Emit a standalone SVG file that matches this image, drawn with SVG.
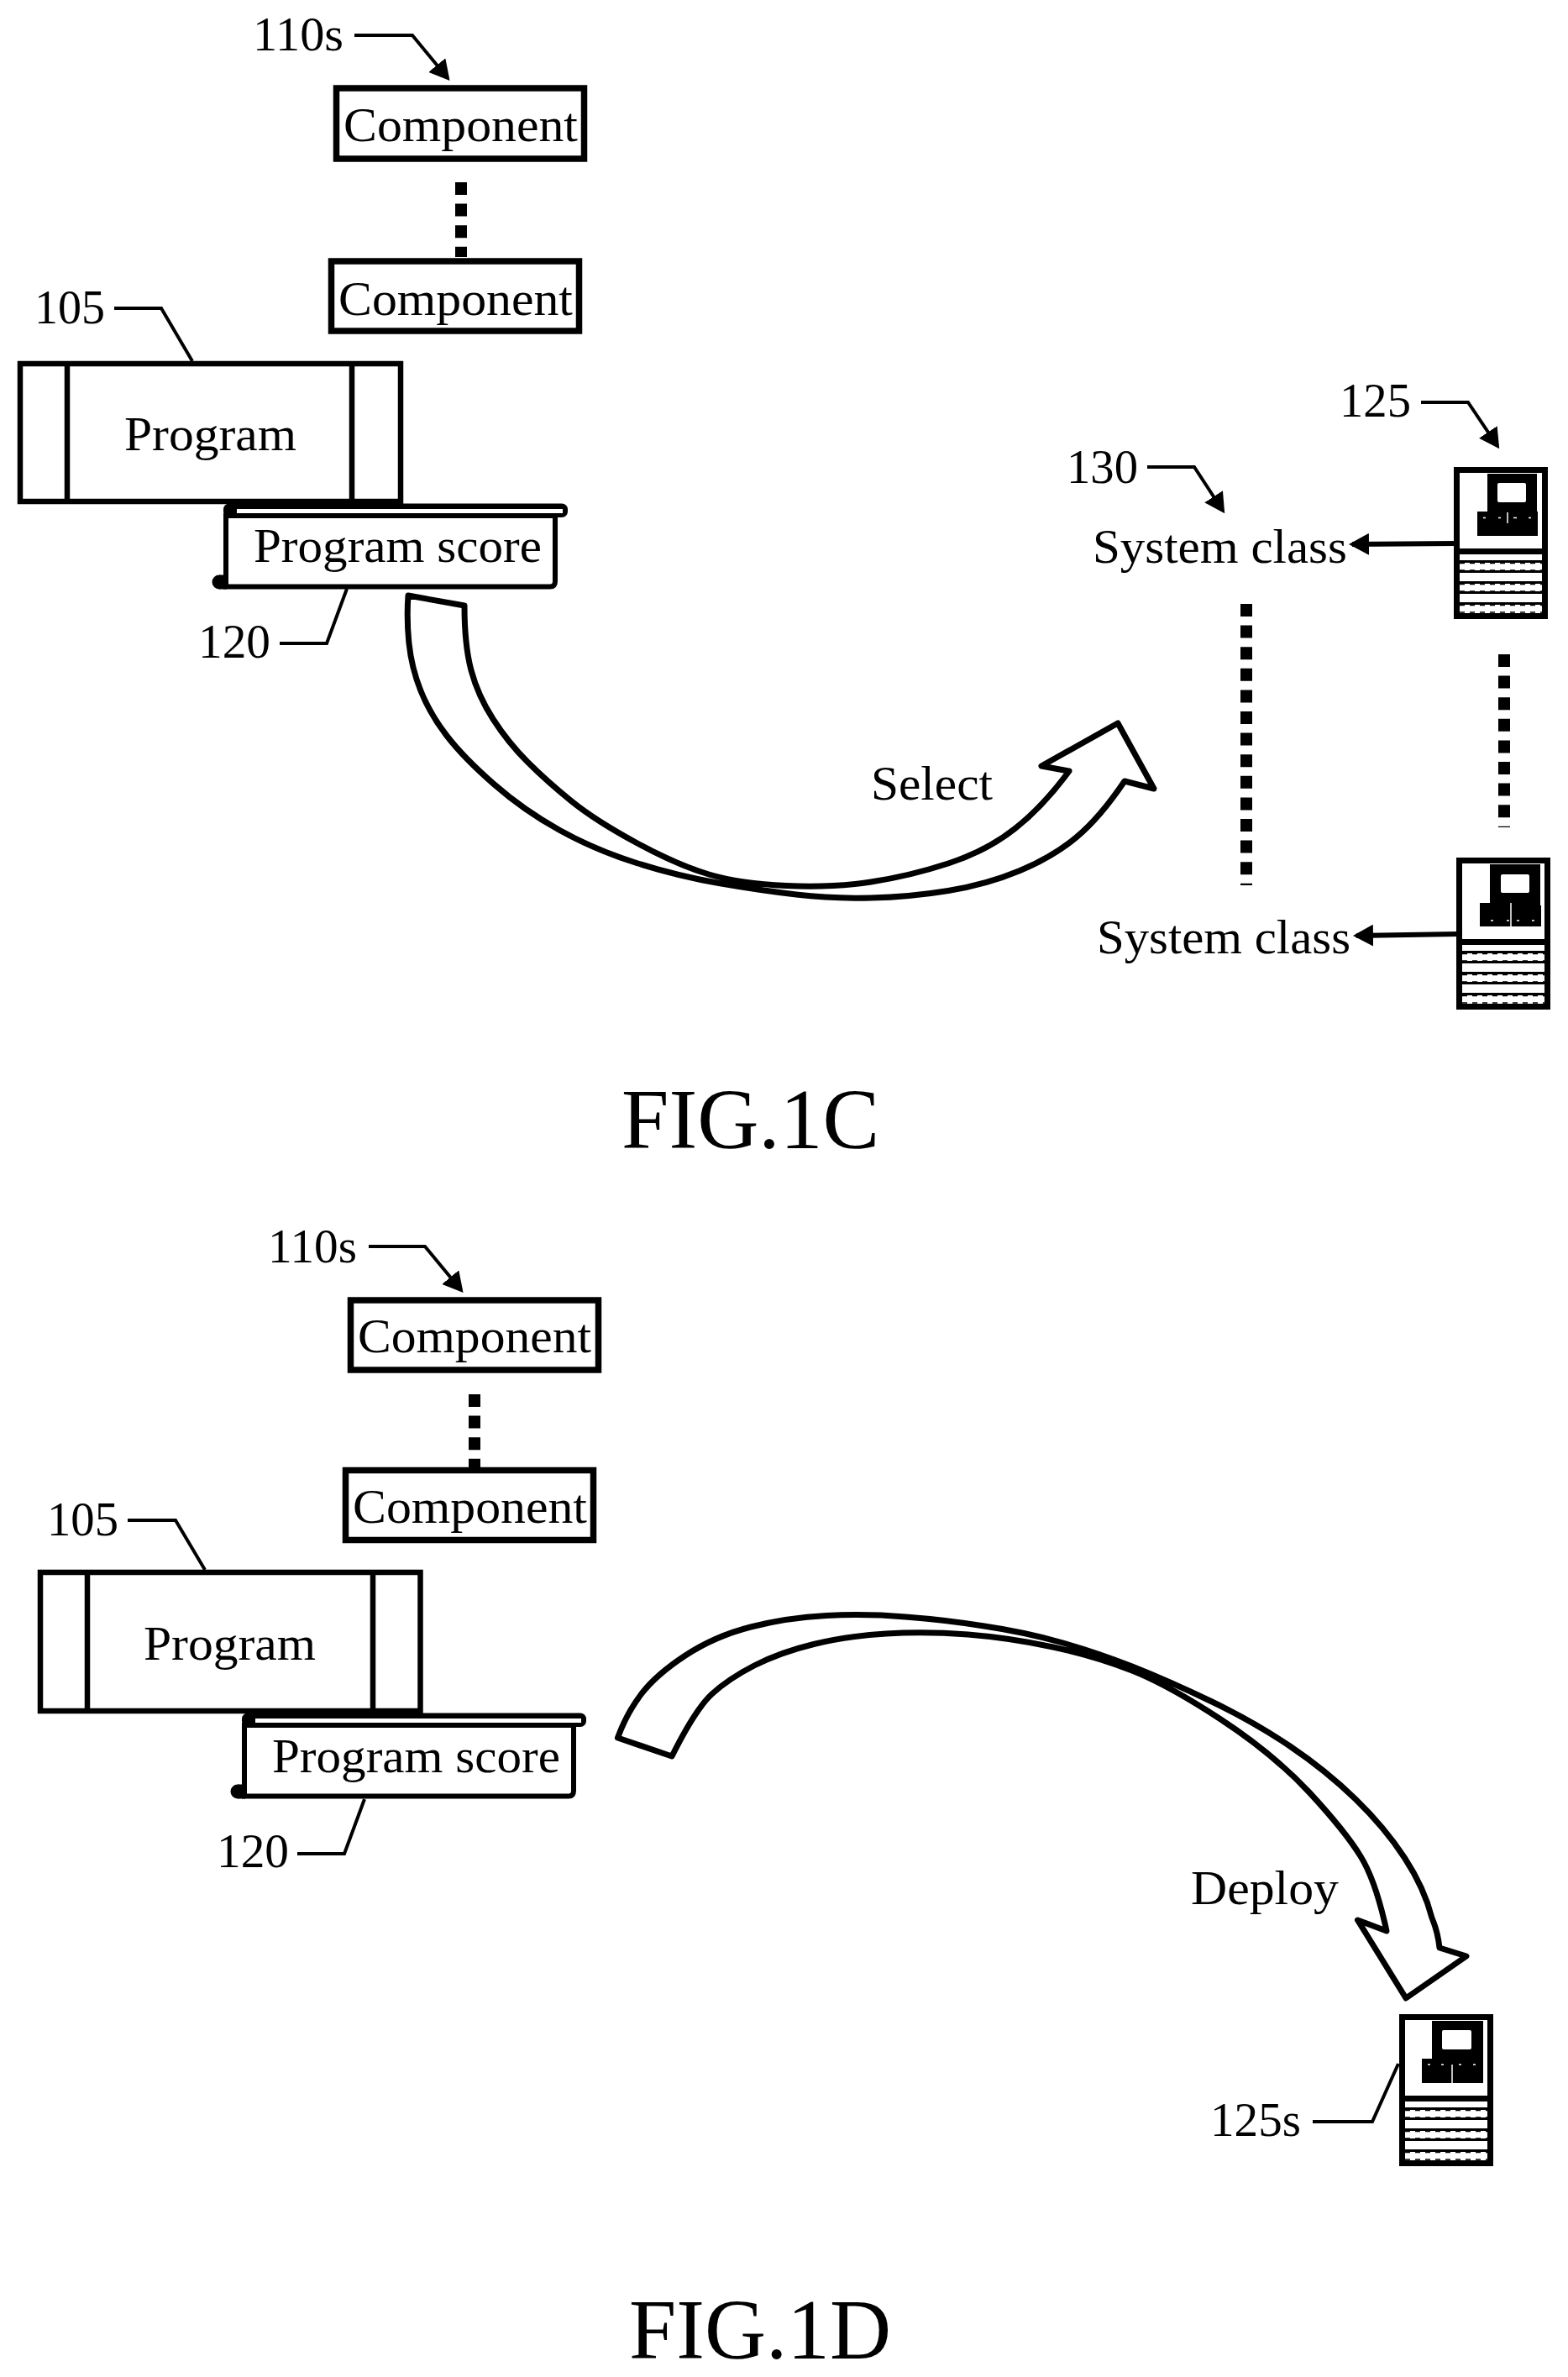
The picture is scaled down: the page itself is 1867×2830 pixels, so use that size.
<svg xmlns="http://www.w3.org/2000/svg" width="1867" height="2830" viewBox="0 0 1867 2830">
<style>
text{font-family:"Liberation Serif","Times New Roman",serif;font-size:58px;fill:#000}
.fig{font-size:102px}
.box{fill:#fff;stroke:#000;stroke-width:7.5}
.prog{fill:#fff;stroke:#000;stroke-width:6.5}
.thin{fill:none;stroke:#000;stroke-width:6.5}
.lead{fill:none;stroke:#000;stroke-width:4}
.arr{fill:none;stroke:#000;stroke-width:6}
.dots{fill:none;stroke:#000;stroke-width:14;stroke-dasharray:15 10.6}
.big{fill:#fff;stroke:#000;stroke-width:7;stroke-linejoin:round}
.tooth{fill:none;stroke:#000;stroke-width:1.6;stroke-dasharray:6 6}
</style>
<defs>
<marker id="head" markerUnits="userSpaceOnUse" markerWidth="24" markerHeight="26" viewBox="0 0 24 26" refX="20" refY="13" orient="auto"><path d="M0,0L24,13L0,26Z" fill="#000"/></marker>
<g id="server-body">
<rect x="3.5" y="3.5" width="105" height="174" fill="#fff" stroke="#000" stroke-width="7"/>
<rect x="0" y="97" width="112" height="7" fill="#000"/>
<path d="M0,112.5H112M0,124.5H112M0,137.5H112M0,149.5H112M0,162.5H112" fill="none" stroke="#000" stroke-width="3"/>
<path class="tooth" d="M7,114.5H105M7,123H105M7,139.5H105M7,148H105M7,164.5H105M7,173H105"/>
</g>
<g id="scroll">
<rect x="266" y="599.5" width="410" height="16.5" rx="7" fill="#000"/>
<rect x="282" y="606" width="388" height="5" fill="#fff"/>
<path d="M269,614H661V692Q661,698.500 655,698.500H269Z" fill="#fff" stroke="#000" stroke-width="6"/>
<circle cx="261" cy="693" r="8.5" fill="#000"/>
<rect x="261" y="684.5" width="9" height="17" fill="#000"/>
</g>
</defs>

<g id="connectors">
<path class="lead" marker-end="url(#head)" d="M422,42H491L533,93"/>
<path class="dots" d="M549,217V306"/>
<path class="lead" d="M136,367H192L229,430"/>
<path class="lead" d="M413,701L389,766H333"/>
<path class="lead" marker-end="url(#head)" d="M1692,479H1748L1783,531"/>
<path class="lead" marker-end="url(#head)" d="M1366,556H1422L1456,608"/>
<path class="arr" marker-end="url(#head)" d="M1732,647L1610,648"/>
<path class="arr" marker-end="url(#head)" d="M1736,1112L1615,1114"/>
<path class="dots" d="M1484,719V1054"/>
<path class="dots" d="M1791,779V985"/>
<path id="select-arrow" class="big" d="M486,709Q484,737 487,766Q490,795 501,822.500Q512,850 532,876Q552,902 588,933.500Q624,965 666.500,988.500Q709,1012 758,1027.500Q807,1043 856,1051.500Q905,1060 948,1065Q991,1070 1037,1069Q1083,1068 1129,1060.500Q1175,1053 1214.500,1036.500Q1254,1020 1282,996.500Q1310,973 1339,930L1374,939L1331,861L1240,912L1273,918Q1242,960 1208.500,986.500Q1175,1013 1129,1028Q1083,1043 1037,1050Q991,1057 936,1054.500Q881,1052 844,1041Q807,1030 758,1003.500Q709,977 680,953.500Q651,930 628,907Q605,884 587,856Q569,828 561,798Q553,768 553,721Z"/>
<path class="lead" marker-end="url(#head)" d="M439,1484H506L549,1536"/>
<path class="dots" d="M565,1660V1749"/>
<path class="lead" d="M152,1810H209L244,1869"/>
<path class="lead" d="M434,2142L410,2207H354"/>
<path id="deploy-arrow" class="big" d="M735.500,2069Q746,2040 763.500,2017Q781,1994 816,1971Q851,1948 894,1937Q937,1926 984,1923.500Q1031,1921 1078,1925Q1125,1928.500 1172,1936Q1219,1943 1262,1955Q1305,1967 1348,1984Q1391,2001 1442,2025.500Q1493,2050 1536,2079Q1579,2108 1614,2142Q1649,2176 1672.500,2212Q1696,2248 1705,2283.500Q1712,2300 1714,2319L1746,2329L1674,2379L1616.500,2286L1651,2299Q1638,2239 1620,2210Q1602,2180.500 1559,2134Q1516,2088 1453.500,2047Q1391,2006 1348,1989Q1305,1972 1254,1961Q1203,1950 1152.500,1946Q1102,1942 1055,1945Q1008,1948 969,1957.500Q929.500,1967 898,1983Q867,1999 847.500,2017Q828,2035 800,2091Z"/>
<path class="lead" d="M1563,2526H1634L1665,2457"/>
</g>

<g id="label-110s-c"><text x="301" y="60" textLength="108" lengthAdjust="spacingAndGlyphs">110s</text></g>
<g id="component-c1"><rect class="box" x="400.500" y="105" width="295" height="84"/><text x="409" y="168" textLength="279" lengthAdjust="spacingAndGlyphs">Component</text></g>
<g id="component-c2"><rect class="box" x="394.500" y="311" width="295" height="83"/><text x="403" y="375" textLength="279" lengthAdjust="spacingAndGlyphs">Component</text></g>
<g id="label-105-c"><text x="41" y="385" textLength="84" lengthAdjust="spacingAndGlyphs">105</text></g>
<g id="program-c"><rect class="prog" x="24" y="433" width="453" height="164"/><path class="thin" d="M80,433V597M419,433V597"/><text x="148" y="536" textLength="205" lengthAdjust="spacingAndGlyphs">Program</text></g>
<g id="score-c"><use href="#scroll"/><text x="302" y="669" textLength="343" lengthAdjust="spacingAndGlyphs">Program score</text></g>
<g id="label-120-c"><text x="236" y="783" textLength="86" lengthAdjust="spacingAndGlyphs">120</text></g>
<g id="label-select"><text x="1037" y="952" textLength="145" lengthAdjust="spacingAndGlyphs">Select</text></g>
<g id="label-130"><text x="1270" y="575" textLength="85" lengthAdjust="spacingAndGlyphs">130</text></g>
<g id="label-125"><text x="1595" y="496" textLength="85" lengthAdjust="spacingAndGlyphs">125</text></g>
<g id="class-1"><text x="1301" y="670" textLength="303" lengthAdjust="spacingAndGlyphs">System class</text></g>
<g id="class-2"><text x="1306" y="1135" textLength="302" lengthAdjust="spacingAndGlyphs">System class</text></g>
<g id="server-1"><use href="#server-body" x="1731" y="556"/>
<path fill="#000" d="M1771,564H1830V609H1831V638H1759V609H1771Z"/>
<rect x="1783" y="575" width="34" height="23" rx="2" fill="#fff"/>
<path d="M1766,616.500H1769M1784,616.500H1787M1802,616.500H1806M1820,616.500H1823M1795,610V623" stroke="#fff" stroke-width="1.500" fill="none"/></g>
<g id="server-2"><use href="#server-body" x="1734" y="1021"/>
<path fill="#000" d="M1774,1029H1834V1078H1835V1103H1762V1075H1774Z"/>
<rect x="1787" y="1041" width="34" height="22" rx="2" fill="#fff"/>
<path d="M1775,1096H1778M1794,1096H1797M1806,1096H1809M1824,1096H1827M1799,1075V1103" stroke="#fff" stroke-width="1.500" fill="none"/></g>
<g id="fig-1c"><text class="fig" x="740" y="1367" textLength="307" lengthAdjust="spacingAndGlyphs">FIG.1C</text></g>

<g id="label-110s-d"><text x="319" y="1503" textLength="106" lengthAdjust="spacingAndGlyphs">110s</text></g>
<g id="component-d1"><rect class="box" x="417.500" y="1548" width="295" height="83"/><text x="426" y="1610" textLength="278" lengthAdjust="spacingAndGlyphs">Component</text></g>
<g id="component-d2"><rect class="box" x="411.500" y="1750.500" width="295" height="83"/><text x="420" y="1813" textLength="279" lengthAdjust="spacingAndGlyphs">Component</text></g>
<g id="label-105-d"><text x="56" y="1828" textLength="85" lengthAdjust="spacingAndGlyphs">105</text></g>
<g id="program-d"><rect class="prog" x="48" y="1872" width="452.500" height="165"/><path class="thin" d="M104,1872V2037M444,1872V2037"/><text x="171" y="1976" textLength="205" lengthAdjust="spacingAndGlyphs">Program</text></g>
<g id="score-d"><use href="#scroll" x="22" y="1440"/><text x="324" y="2110" textLength="343" lengthAdjust="spacingAndGlyphs">Program score</text></g>
<g id="label-120-d"><text x="258" y="2223" textLength="86" lengthAdjust="spacingAndGlyphs">120</text></g>
<g id="label-deploy"><text x="1418" y="2267" textLength="176" lengthAdjust="spacingAndGlyphs">Deploy</text></g>
<g id="label-125s"><text x="1441" y="2543" textLength="108" lengthAdjust="spacingAndGlyphs">125s</text></g>
<g id="server-3"><use href="#server-body" x="1666" y="2398"/>
<path fill="#000" d="M1705,2406H1766V2480H1693V2451H1705Z"/>
<rect x="1717" y="2417" width="35" height="23" rx="2" fill="#fff"/>
<path d="M1700,2458H1703M1716,2458H1719M1737,2458H1740M1754,2458H1757M1729,2458V2480" stroke="#fff" stroke-width="1.500" fill="none"/></g>
<g id="fig-1d"><text class="fig" x="749" y="2808" textLength="312" lengthAdjust="spacingAndGlyphs">FIG.1D</text></g>
</svg>
